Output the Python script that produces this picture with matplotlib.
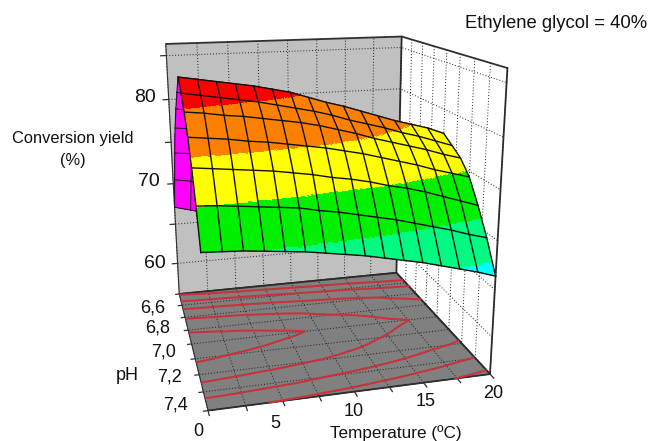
import numpy as np
import matplotlib
matplotlib.use('Agg')
import matplotlib.pyplot as plt

plt.rcParams['font.family'] = ['Liberation Sans', 'DejaVu Sans']

W, H = 651, 441
Z_LIM = (56.0, 86.3)

temperature = [0, 1.333, 2.667, 4, 5.333, 6.667, 8, 9.333, 10.667, 12, 13.333, 14.667, 16, 17.333, 18.667, 20]
ph = [6.6, 6.667, 6.733, 6.8, 6.867, 6.933, 7.0, 7.067, 7.133, 7.2, 7.267, 7.333, 7.4]

# conversion yield, one row per pH (rear rows are hidden, estimated from the floor contours)
yield_66 = [67.1, 66.6, 66.1, 65.7, 65.3, 65.0, 64.7, 64.5, 64.2, 64.0, 63.8, 63.5, 63.3, 63.0, 62.8, 62.5]
yield_667 = [71.1, 70.8, 70.6, 70.4, 70.2, 70.0, 69.7, 69.4, 69.1, 68.8, 68.6, 68.4, 68.0, 67.6, 67.3, 67.0]
yield_673 = [74.8, 74.6, 74.5, 74.3, 74.1, 73.9, 73.7, 73.4, 73.1, 72.9, 72.6, 72.3, 71.9, 71.6, 71.3, 71.0]
yield_68 = [78.1, 77.9, 77.7, 77.6, 77.4, 77.1, 76.9, 76.6, 76.3, 76.0, 75.7, 75.4, 74.9, 74.5, 74.2, 73.9]
yield_687 = [80.6, 80.3, 80.1, 79.9, 79.6, 79.3, 79.0, 78.6, 78.1, 77.7, 77.4, 77.0, 76.3, 75.8, 75.4, 75.0]
yield_693 = [82.7, 82.4, 82.1, 81.9, 81.5, 81.1, 80.7, 80.3, 79.7, 79.2, 78.8, 78.3, 77.5, 76.9, 76.4, 75.9]
yield_70 = [84.6, 84.3, 84.0, 83.7, 83.4, 83.0, 82.6, 82.0, 81.4, 80.9, 80.3, 79.7, 79.1, 78.6, 78.1, 77.4]
yield_707 = [83.4, 83.1, 82.8, 82.5, 82.2, 81.8, 81.4, 81.0, 80.5, 79.9, 79.4, 78.9, 78.3, 77.8, 77.2, 76.6]
yield_713 = [82.0, 81.8, 81.5, 81.3, 81.0, 80.7, 80.4, 80.0, 79.5, 79.0, 78.4, 77.9, 77.4, 76.9, 76.3, 75.8]
yield_72 = [80.1, 79.9, 79.7, 79.4, 79.2, 78.9, 78.6, 78.3, 77.9, 77.5, 77.0, 76.5, 76.0, 75.4, 74.9, 74.4]
yield_727 = [77.8, 77.6, 77.4, 77.2, 77.0, 76.7, 76.4, 76.0, 75.7, 75.3, 74.8, 74.4, 73.9, 73.3, 72.7, 72.1]
yield_733 = [74.9, 74.8, 74.6, 74.4, 74.2, 74.0, 73.6, 73.3, 72.9, 72.5, 72.1, 71.6, 71.1, 70.6, 70.0, 69.5]
yield_74 = [71.4, 71.3, 71.2, 71.0, 70.8, 70.6, 70.3, 70.0, 69.7, 69.3, 68.9, 68.5, 68.0, 67.5, 67.0, 66.4]

levels = [67.5, 71.0, 74.8, 78.5, 82.2]
band_colors = ['#00ffff', '#00fa82', '#00f000', '#ffff00', '#ff8000', '#ff0000']

z_ticks = [60, 65, 70, 75, 80, 85]
t_ticks = [0, 2.5, 5, 7.5, 10, 12.5, 15, 17.5, 20]
ph_ticks = [6.6, 6.7, 6.8, 6.9, 7.0, 7.1, 7.2, 7.3, 7.4]

z_labels = ['60', '70', '80']
t_labels = ['0', '5', '10', '15', '20']
ph_labels = ['6,6', '6,8', '7,0', '7,2', '7,4']

grid = np.array([yield_66, yield_667, yield_673, yield_68, yield_687, yield_693, yield_70,
                 yield_707, yield_713, yield_72, yield_727, yield_733, yield_74])
T, P = np.meshgrid(temperature, ph)


def fine_mesh(rows, sub_t=6, sub_p=24):
    """Subdivide grid cells so the colour bands get clean edges."""
    tx = np.arange(len(temperature))
    tf = np.linspace(0, len(temperature) - 1, (len(temperature) - 1) * sub_t + 1)
    ry = np.arange(rows.start, rows.stop)
    rf = np.linspace(rows.start, rows.stop - 1, (rows.stop - 1 - rows.start) * sub_p + 1)
    across = np.array([np.interp(tf, tx, grid[r]) for r in ry])
    z = np.array([np.interp(rf, ry, across[:, c]) for c in range(len(tf))]).T
    xf = np.interp(tf, tx, temperature)
    yf = np.interp(rf, ry, ph[rows.start:rows.stop])
    xf, yf = np.meshgrid(xf, yf)
    return xf, yf, z


def px_text(x, y, s, **kw):
    fig.text(x / W, 1 - y / H, s, ha='center', va='center', color='#111111', **kw)


fig = plt.figure(figsize=(W / 100, H / 100), dpi=100)
S = 441.0
cx, cy = 311.758, 204.6312
ax = fig.add_axes([(cx - S / 2) / W, (H - cy - S / 2) / H, S / W, S / H], projection='3d')
ax.patch.set_alpha(0)
ax.computed_zorder = False
ax.set_xmargin(0)
ax.set_ymargin(0)
ax.set_zmargin(0)
ax.view_init(elev=16.4258, azim=-103.9054, roll=0.2932)
ax.set_proj_type('persp', focal_length=0.3632)
ax.set_box_aspect((0.8863, 0.9013, 0.9597), zoom=1.0424)

# walls and floor
ax.xaxis.set_pane_color('white')
ax.yaxis.set_pane_color('#c0c0c0')
ax.zaxis.set_pane_color('#808080')
for axis in (ax.xaxis, ax.yaxis, ax.zaxis):
    axis.pane.set_edgecolor('#303030')
    axis.pane.set_linewidth(1.3)
    axis._axinfo['grid'].update(color='#202020', linewidth=0.7, linestyle=(0, (1, 2)))
    axis._axinfo['tick'].update(inward_factor=0, outward_factor=0)
    axis.line.set_color('#303030')
ax.set_xticks(t_ticks)
ax.set_yticks(ph_ticks)
ax.set_zticks(z_ticks)
ax.set_xticklabels([])
ax.set_yticklabels([])
ax.set_zticklabels([])

# short tick marks outside the box
for z in z_ticks:
    ax.plot([0, -0.45], [6.6, 6.6], [z, z], color='#303030', lw=0.9, zorder=1)
for p in ph_ticks:
    ax.plot([0, -0.3], [p, p], [Z_LIM[0], Z_LIM[0]], color='#303030', lw=0.9, zorder=1)
for t in t_ticks:
    ax.plot([t, t], [7.4, 7.425], [Z_LIM[0], Z_LIM[0]], color='#303030', lw=0.9, zorder=1)

# contours on the floor
ax.contour(T, P, grid, levels=levels, zdir='z', offset=Z_LIM[0], colors='#c8323c',
           linewidths=1.5, zorder=1)

# underside of the rear half, then its wire
xb, yb, zb = fine_mesh(range(0, 7), sub_p=4)
ax.plot_surface(xb, yb, zb, color='#ff00ff', rstride=1, cstride=1, shade=False, linewidth=0,
                antialiased=False, zorder=2)
for r in range(0, 7):
    ax.plot(temperature, [ph[r]] * 16, grid[r], color='#301030', lw=0.8, zorder=3)
for c in range(16):
    ax.plot([temperature[c]] * 7, ph[:7], grid[:7, c], color='#301030', lw=0.8, zorder=3)

# front half: colour bands, then wire
xf, yf, zf = fine_mesh(range(6, 13))
centre = (zf[:-1, :-1] + zf[1:, :-1] + zf[:-1, 1:] + zf[1:, 1:]) / 4
bands = np.digitize(centre, levels)
rgba = matplotlib.colors.to_rgba_array(band_colors)[bands]
ax.plot_surface(xf, yf, zf, facecolors=rgba, rstride=1, cstride=1, shade=False, linewidth=0,
                antialiased=False, zorder=4)
for r in range(6, 13):
    ax.plot(temperature, [ph[r]] * 16, grid[r], color='#101010', lw=1.0, zorder=5)
for c in range(16):
    ax.plot([temperature[c]] * 7, ph[6:], grid[6:, c], color='#101010', lw=1.0, zorder=5)

ax.set_xlim(0, 20)
ax.set_ylim(7.4, 6.6)
ax.set_zlim(*Z_LIM)

for s, x, y in zip(z_labels, [155, 149, 145], [263, 181, 98]):
    px_text(x, y, s, fontsize=14)
for s, x, y in zip(ph_labels, [153, 158, 164, 169, 176], [308, 328, 352, 377, 405]):
    px_text(x, y, s, fontsize=13)
for s, x, y in zip(t_labels, [198, 275, 354, 426, 493], [432, 423, 412, 402, 393]):
    px_text(x, y, s, fontsize=13)
px_text(127, 376, 'pH', fontsize=13)
px_text(396, 433, 'Temperature (ºC)', fontsize=12.3)
px_text(72.5, 139, 'Conversion yield', fontsize=11.8)
px_text(72.5, 161, '(%)', fontsize=11.8)
px_text(556.5, 23, 'Ethylene glycol = 40%', fontsize=13.3)

fig.savefig('out.png', dpi=100)
